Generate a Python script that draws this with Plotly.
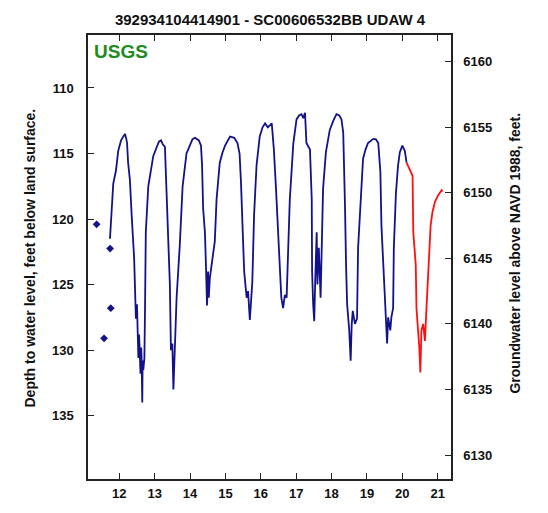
import plotly.graph_objects as go

# Discrete early measurements (year, depth ft)
pt_year = [11.36, 11.57, 11.74, 11.76]
pt_depth = [120.4, 129.1, 122.25, 126.8]

# Approved record (blue)
blue_year = [11.737, 11.785, 11.83, 11.907, 11.97, 12.05, 12.12, 12.16, 12.20, 12.22, 12.25, 12.30, 12.35, 12.42, 12.47, 12.50,
             12.54, 12.56, 12.57, 12.60, 12.62, 12.63, 12.65, 12.66, 12.68, 12.71, 12.73, 12.75, 12.82, 12.90, 12.96, 13.06, 13.12, 13.18, 13.23,
             13.29, 13.31, 13.34, 13.38, 13.43, 13.46, 13.50, 13.53, 13.55, 13.57, 13.62, 13.71, 13.79, 13.90, 14.00,
             14.07, 14.14, 14.20, 14.25, 14.31, 14.34, 14.37, 14.42, 14.45, 14.48, 14.51, 14.53, 14.56, 14.61, 14.65, 14.70,
             14.75, 14.84, 14.92, 14.99, 15.13, 15.25, 15.34, 15.40, 15.44, 15.49, 15.53, 15.60, 15.64, 15.69, 15.72, 15.76,
             15.81, 15.88, 15.97, 16.05, 16.12, 16.20, 16.31, 16.37, 16.43, 16.49, 16.54, 16.58, 16.63, 16.68, 16.73,
             16.77, 16.82, 16.92, 17.01, 17.08, 17.15, 17.20, 17.25, 17.29, 17.39, 17.44, 17.45, 17.48, 17.51, 17.54, 17.58,
             17.60, 17.64, 17.69, 17.72, 17.76, 17.84, 17.95, 18.05, 18.14, 18.22, 18.28, 18.33, 18.36, 18.38, 18.41, 18.44,
             18.50, 18.54, 18.57, 18.60, 18.66, 18.72, 18.75, 18.82, 18.89, 18.96, 19.03, 19.17, 19.25, 19.32, 19.38, 19.41,
             19.46, 19.51, 19.57, 19.60, 19.66, 19.69, 19.74, 19.76, 19.82, 19.88, 19.93, 20.00, 20.07, 20.12]
blue_depth = [121.5, 119.2, 117.3, 116.3, 114.8, 114.0, 113.7, 113.5, 113.9, 114.2, 115.7, 117.0, 119.7, 123.0, 127.6, 126.5,
              130.6, 128.8, 129.5, 131.8, 129.8, 130.5, 134.0, 130.8, 131.5, 130.6, 126.3, 121.0, 117.5, 116.0, 115.2, 114.5, 114.1, 114.0, 114.3,
              114.5, 116.0, 117.5, 121.2, 125.0, 130.0, 129.5, 133.0, 131.0, 130.0, 126.0, 122.0, 117.5, 115.0, 114.3,
              113.9, 113.8, 113.9, 114.0, 114.4, 115.9, 119.2, 121.0, 123.5, 126.6, 124.0, 126.0, 124.5, 123.5, 122.5, 121.7,
              118.5, 115.7, 114.9, 114.4, 113.7, 113.8, 114.2, 115.0, 117.2, 121.0, 124.0, 126.0, 125.5, 127.7, 126.5, 124.8,
              119.7, 115.9, 113.7, 113.0, 112.7, 113.0, 112.7, 114.7, 117.7, 121.5, 124.8, 126.0, 126.8, 125.8, 126.0,
              122.2, 118.5, 114.2, 112.4, 112.1, 112.0, 112.3, 111.9, 114.2, 114.7, 118.5, 124.0, 126.5, 127.8, 124.5, 121.0,
              125.0, 122.2, 126.0, 121.0, 117.7, 114.9, 113.2, 112.5, 112.0, 112.1, 112.4, 113.4, 115.9, 119.0, 123.5, 126.5,
              128.5, 130.8, 128.0, 127.0, 128.0, 127.6, 122.2, 118.5, 115.4, 114.7, 114.2, 113.9, 113.9, 114.2, 116.4, 120.5,
              123.5, 126.5, 129.5, 127.5, 128.5, 127.5, 126.8, 122.2, 118.0, 115.9, 114.9, 114.4, 114.8, 115.7]

# Provisional record (red)
red_year = [20.12, 20.21, 20.29, 20.31, 20.38, 20.40, 20.45, 20.48, 20.51, 20.54, 20.59, 20.64, 20.67, 20.71,
            20.75, 20.80, 20.85, 20.92, 21.01, 21.11, 21.14]
red_depth = [115.7, 116.2, 116.7, 121.0, 123.5, 126.8, 128.5, 129.8, 131.7, 128.5, 128.0, 129.3, 127.5, 125.0,
             123.0, 120.5, 119.5, 118.7, 118.2, 117.8, 117.9]

x_ticks = [12, 13, 14, 15, 16, 17, 18, 19, 20, 21]
depth_ticks = [110, 115, 120, 125, 130, 135]
elev_ticks = [6130, 6135, 6140, 6145, 6150, 6155, 6160]
datum = 6268.0
depth_range = [139.83, 105.96]
x_range = [11.116, 21.376]

NAVY = "#12128a"
FONT = "Liberation Sans, Arial, sans-serif"
tickfont = dict(family=FONT, size=13, color="#111", weight="bold")

fig = go.Figure()
fig.add_trace(go.Scatter(x=blue_year, y=blue_depth, mode="lines",
                         line=dict(color=NAVY, width=1.8), showlegend=False, hoverinfo="skip"))
fig.add_trace(go.Scatter(x=red_year, y=red_depth, mode="lines",
                         line=dict(color="#ff1010", width=1.8), showlegend=False, hoverinfo="skip"))
fig.add_trace(go.Scatter(x=pt_year, y=pt_depth, mode="markers",
                         marker=dict(symbol="diamond", size=6, color=NAVY), showlegend=False, hoverinfo="skip"))
fig.add_trace(go.Scatter(x=[x_range[0]], y=[datum - 120], yaxis="y2", mode="markers",
                         marker=dict(size=1, color="rgba(0,0,0,0)"), showlegend=False, hoverinfo="skip"))

fig.update_layout(
    width=548, height=513,
    margin=dict(l=88, r=97, t=35, b=31),
    paper_bgcolor="white", plot_bgcolor="white",
    xaxis=dict(range=x_range, tickvals=x_ticks, ticktext=[str(v) for v in x_ticks],
               ticks="inside", ticklen=6, tickwidth=1, tickcolor="#222",
               showline=True, linecolor="#222", linewidth=1.5, mirror="ticks",
               showgrid=False, zeroline=False, tickfont=tickfont, ticklabelstandoff=2),
    yaxis=dict(range=depth_range, tickvals=depth_ticks,
               ticks="inside", ticklen=6, tickwidth=1, tickcolor="#222",
               showline=True, linecolor="#222", linewidth=1.5,
               showgrid=False, zeroline=False, tickfont=tickfont, ticklabelstandoff=10),
    yaxis2=dict(range=[datum - depth_range[0], datum - depth_range[1]], tickvals=elev_ticks,
                overlaying="y", side="right",
                ticks="inside", ticklen=6, tickwidth=1, tickcolor="#222",
                showline=True, linecolor="#222", linewidth=1.5,
                showgrid=False, zeroline=False, tickfont=tickfont, ticklabelstandoff=8),
    title=dict(text="392934104414901 - SC00606532BB UDAW 4", x=270/548, xanchor="center",
               y=1 - 20/513, yanchor="middle",
               font=dict(family=FONT, size=15, color="#111", weight="bold")),
)

fig.add_annotation(text="USGS", xref="paper", yref="paper", x=0.012, y=0.99, xanchor="left", yanchor="top",
                   showarrow=False,
                   font=dict(family=FONT, size=19, color="#1e8c1e", weight="bold"))
fig.add_annotation(text="Depth to water level, feet below land surface.", xref="paper", yref="paper",
                   x=(30 - 88) / 363, y=(482 - 260) / 447, xanchor="center", yanchor="middle", textangle=-90,
                   showarrow=False, font=dict(family=FONT, size=14, color="#111", weight="bold"))
fig.add_annotation(text="Groundwater level above NAVD 1988, feet.", xref="paper", yref="paper",
                   x=(515 - 88) / 363, y=(482 - 255) / 447, xanchor="center", yanchor="middle", textangle=-90,
                   showarrow=False, font=dict(family=FONT, size=14, color="#111", weight="bold"))

fig.write_html("out.html")
